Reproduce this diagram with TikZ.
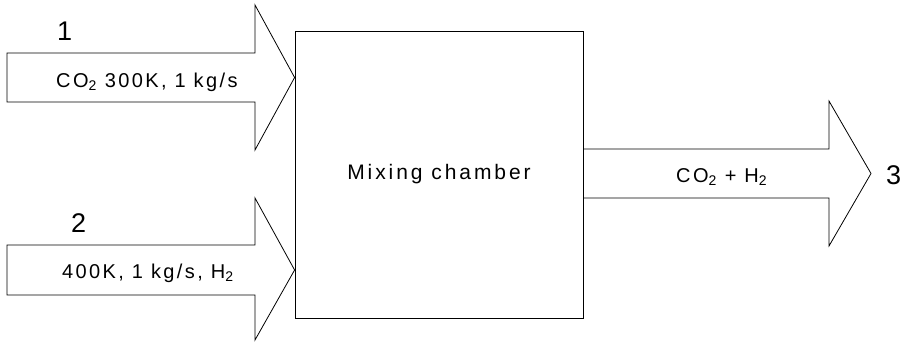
\documentclass[tikz,border=0pt]{standalone}
\usepackage{fontspec}
\setmainfont{Liberation Sans}
\newfontfamily\spacedfont{Liberation Sans}[LetterSpace=12]
\newfontfamily\widefont{Liberation Sans}[LetterSpace=14]
\usetikzlibrary{positioning}

\tikzset{
  chamberbox/.style={draw, line width=0.8pt, minimum width=288pt, minimum height=287pt,
    font=\widefont\fontsize{21}{24}\selectfont},
  flowtext/.style={inner sep=0pt, anchor=base west, font=\spacedfont\fontsize{20}{23}\selectfont},
  portnum/.style={inner sep=0pt, anchor=base west, font=\fontsize{27}{30}\selectfont},
  fatarrow/.style={draw, line width=0.8pt, line join=miter},
}

\begin{document}
\begin{tikzpicture}[x=1pt, y=-1pt]
  \useasboundingbox (0,0) rectangle (903,341);

  \node (chamber) [chamberbox] at (439,174.5) {Mixing chamber};

  % inlet and outlet tips
  \coordinate (tip1) at (chamber.west |- 0,77.5);
  \coordinate (tip2) at (chamber.west |- 0,270);
  \coordinate (tip3) at (871,173.5);

  % stream 1
  \draw [fatarrow] (7,53) -- (255,53) -- (255,5) -- (tip1) -- (255,150)
    -- (255,102) -- (7,102) -- cycle;
  % stream 2
  \draw [fatarrow] (7,245) -- (255,245) -- (255,198) -- (tip2) -- (255,340)
    -- (255,295) -- (7,295) -- cycle;
  % stream 3
  \draw [fatarrow] (chamber.east |- 0,149) -- (829,149) -- (829,101) -- (tip3)
    -- (829,246) -- (829,198) -- (chamber.east |- 0,198);

  \node (s1) [flowtext] at (56,87) {CO\textsubscript{2} 300K, 1 kg/s};
  \node (s2) [flowtext] at (62,278) {400K, 1 kg/s, H\textsubscript{2}};
  \node (s3) [flowtext] at (676,182) {CO\textsubscript{2} + H\textsubscript{2}};

  \node (n1) [portnum] at (57,40) {1};
  \node (n2) [portnum] at (71,232) {2};
  \node (n3) [portnum] at (886,184) {3};
\end{tikzpicture}
\end{document}
